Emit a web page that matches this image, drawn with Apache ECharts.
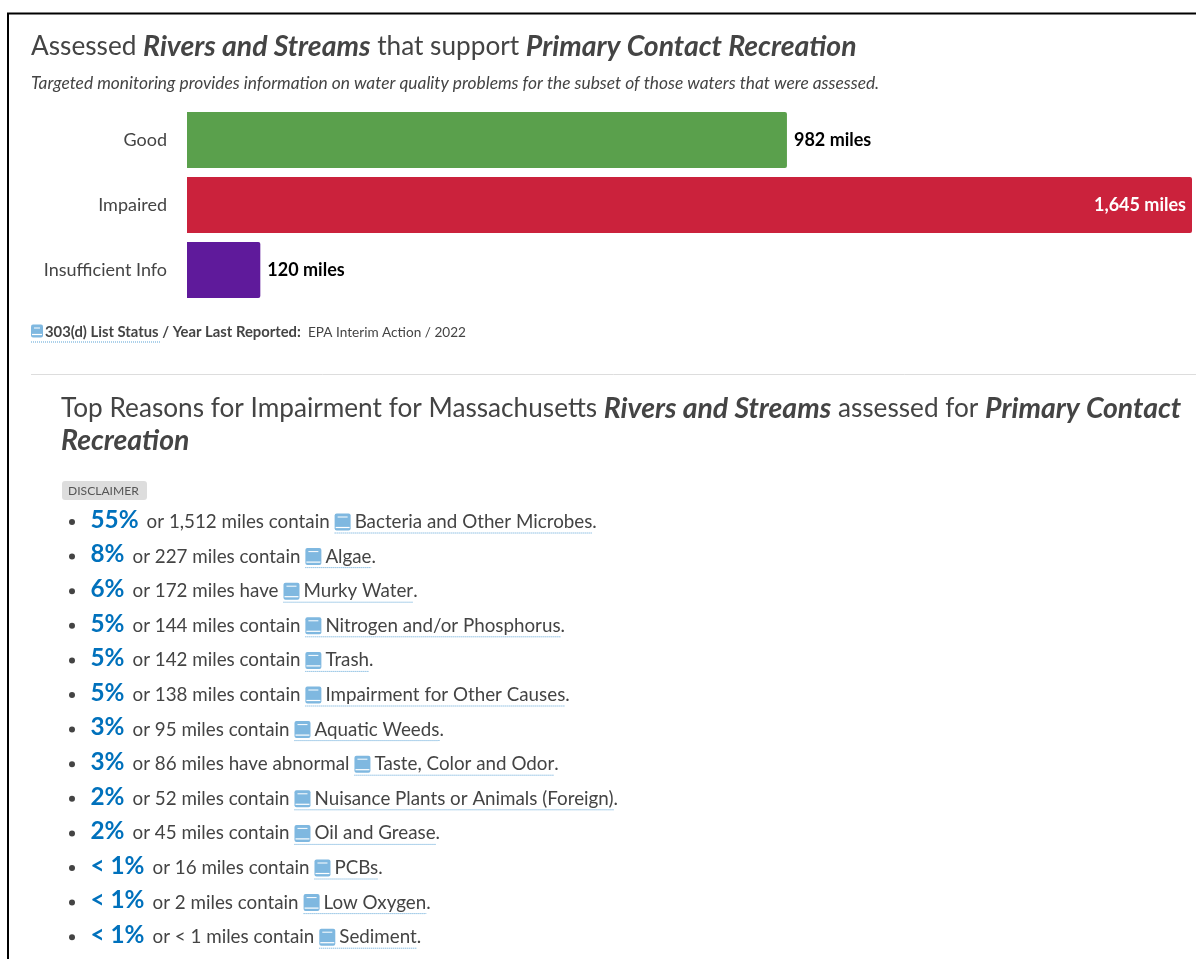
<!DOCTYPE html>
<html><head><meta charset="utf-8">
<script src="https://cdn.jsdelivr.net/npm/echarts@6/dist/echarts.min.js"></script>
<style>html,body{margin:0;padding:0;background:#fff;overflow:hidden}#c{width:1196px;height:959px}</style>
</head><body><div id="c"></div>
<script>
const statusNames = ['Good','Impaired','Insufficient Info'];
const statusMiles = [982,1645,120];
const statusColors = ['#5aa04c','#cb223c','#5f1a9b'];
const reasonPercents = ['55%','8%','6%','5%','5%','5%','3%','3%','2%','2%','< 1%','< 1%','< 1%'];
const reasonMiles = ['1,512','227','172','144','142','138','95','86','52','45','16','2','< 1'];
const reasonVerbs = ['contain','contain','have','contain','contain','contain','contain','have abnormal','contain','contain','contain','contain','contain'];
const reasonCauses = ['Bacteria and Other Microbes','Algae','Murky Water','Nitrogen and/or Phosphorus','Trash','Impairment for Other Causes','Aquatic Weeds','Taste, Color and Odor','Nuisance Plants or Animals (Foreign)','Oil and Grease','PCBs','Low Oxygen','Sediment'];

const FF = 'Lato';
const TXT = '#444444', BLUE = '#0071bc';
const ctx = document.createElement('canvas').getContext('2d');
function tw(s, f){ ctx.font = `${f.style||'normal'} ${f.weight||'normal'} ${f.size}px ${FF}`; return ctx.measureText(s).width; }
const g = [];
function text(x,y,s,f){
  g.push({type:'text',silent:true,x,y,style:{text:s,fontFamily:FF,fontSize:f.size,fontWeight:f.weight||'normal',fontStyle:f.style||'normal',fill:f.color||TXT,textVerticalAlign:'middle',textAlign:'left'}});
  return x + tw(s,f);
}
function flow(x,y,segs){ for(const [s,f] of segs){ x = text(x,y,s,f); } return x; }
function icon(x,y,w,h){
  g.push({type:'rect',silent:true,shape:{x,y:y-h/2,width:w,height:h,r:2},style:{fill:'#7fb8e0'}});
  g.push({type:'line',silent:true,shape:{x1:x+3,y1:y-h/2+3.5,x2:x+w-3,y2:y-h/2+3.5},style:{stroke:'#ffffff',lineWidth:1}});
  g.push({type:'line',silent:true,shape:{x1:x+1,y1:y+h/2-3,x2:x+w-1,y2:y+h/2-3},style:{stroke:'#ffffff',lineWidth:1.2}});
}
function dots(x1,x2,y){ g.push({type:'line',silent:true,shape:{x1,y1:y,x2,y2:y},style:{stroke:'#5ba3d6',lineWidth:1,lineDash:[1,1]}}); }

// frame
g.push({type:'line',silent:true,shape:{x1:7,y1:13.5,x2:1196,y2:13.5},style:{stroke:'#000',lineWidth:2}});
g.push({type:'line',silent:true,shape:{x1:8,y1:13,x2:8,y2:959},style:{stroke:'#000',lineWidth:2}});

const H = {size:26.2}, HB = {size:28.4,weight:'bold',style:'italic'};
flow(31,46.5,[['Assessed ',H],['Rivers and Streams',HB],[' that support ',H],['Primary Contact Recreation',HB]]);
text(31,83,'Targeted monitoring provides information on water quality problems for the subset of those waters that were assessed.',{size:17.35,style:'italic'});

icon(31,331,12,13);
text(45,332.5,'303(d) List Status / Year Last Reported:',{size:14.8,weight:'bold'});
dots(31,161,342);
text(308,332.5,'EPA Interim Action / 2022',{size:13.6});

g.push({type:'line',silent:true,shape:{x1:31,y1:374.5,x2:1196,y2:374.5},style:{stroke:'#dddddd',lineWidth:1}});

flow(61,408.5,[['Top Reasons for Impairment for Massachusetts ',H],['Rivers and Streams',HB],[' assessed for ',H],['Primary Contact',HB]]);
text(61,441,'Recreation',HB);

g.push({type:'rect',silent:true,shape:{x:62,y:481,width:85,height:19,r:3},style:{fill:'#dddddd'}});
text(68,491,'DISCLAIMER',{size:12.1,color:'#555555'});

const rowTop = 521, rowStep = 34.6;
const LIST = {size:18.8};
reasonPercents.forEach((p,i)=>{
  const y = rowTop + i*rowStep;
  g.push({type:'circle',silent:true,shape:{cx:72,cy:y+1,r:3},style:{fill:'#444'}});
  let x = text(90.5,y-1,p,{size:24.3,weight:'bold',color:BLUE});
  x = text(x+8,y+1,`or ${reasonMiles[i]} miles ${reasonVerbs[i]}`,LIST);
  const start = x+5;
  icon(start,y+1,16,17);
  const end = text(start+20,y+1,reasonCauses[i],LIST);
  text(end,y+1,'.',LIST);
  dots(start,end,y+12);
});

const chart = echarts.init(document.getElementById('c'),null,{renderer:'canvas'});
chart.setOption({
  animation:false,
  backgroundColor:'#ffffff',
  grid:{left:187,top:107.5,width:1005,height:195,containLabel:false},
  xAxis:{type:'value',min:0,max:1645,show:false},
  yAxis:{type:'category',inverse:true,data:statusNames,
    axisLine:{show:false},axisTick:{show:false},
    axisLabel:{color:TXT,fontFamily:FF,fontSize:18,margin:20}},
  series:[{type:'bar',barWidth:56,
    data:statusMiles.map((v,i)=>{
      const inside = v > 1500;
      return {value:v,itemStyle:{color:statusColors[i],borderRadius:[0,2,2,0]},
        label:{show:true,position:inside?'insideRight':'right',distance:inside?6:7,
          color:inside?'#fff':'#000',fontFamily:FF,fontWeight:'bold',fontSize:18,
          formatter:p=>p.value.toLocaleString('en-US')+' miles'}};
    })}],
  graphic:{elements:g}
});
</script></body></html>
